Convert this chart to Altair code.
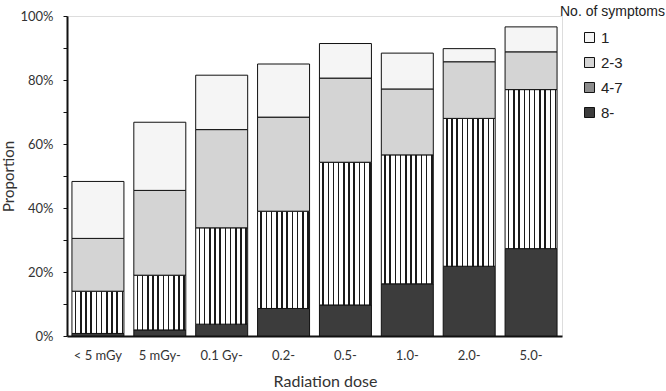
import altair as alt
import pandas as pd

doses = ["< 5 mGy", "5 mGy-", "0.1 Gy-", "0.2-", "0.5-", "1.0-", "2.0-", "5.0-"]
categories = ["1", "2-3", "4-7", "8-"]
# percentages of each symptom-count group per dose band
s_1 = [17.8, 21.3, 17.0, 16.6, 10.8, 11.2, 4.1, 7.8]
s_23 = [16.5, 26.5, 30.7, 29.4, 26.3, 20.6, 17.7, 11.8]
s_47 = [13.2, 17.1, 30.1, 30.4, 44.6, 40.3, 46.2, 49.7]
s_8 = [0.8, 1.9, 3.7, 8.6, 9.7, 16.3, 21.8, 27.3]
fills = ["#f5f5f5", "#d4d4d4", "#8c8c8c", "#3c3c3c"]

rows = []
for i, d in enumerate(doses):
    base = 0.0
    for cat, vals in [("8-", s_8), ("4-7", s_47), ("2-3", s_23), ("1", s_1)]:
        v = vals[i]
        rows.append(dict(dose=d, cat=cat, value=v, y0=base, y1=base + v))
        base += v
df = pd.DataFrame(rows)

# striped fill for the 4-7 group
stops = []
n = 10
for k in range(n):
    a = k / n
    b = a + 0.55 / n
    c = a + 0.85 / n
    stops += [
        {"offset": a, "color": "#ffffff"},
        {"offset": b, "color": "#ffffff"},
        {"offset": b, "color": "#1a1a1a"},
        {"offset": c, "color": "#1a1a1a"},
        {"offset": c, "color": "#ffffff"},
        {"offset": (k + 1) / n, "color": "#ffffff"},
    ]
stripe = {"gradient": "linear", "x1": 0, "y1": 0, "x2": 1, "y2": 0, "stops": stops}

font_tick = "Lato"
font_leg = "Liberation Sans"

chart = alt.Chart(df).mark_bar(stroke="#111111", strokeWidth=1).encode(
    x=alt.X(
        "dose:N",
        sort=doses,
        scale=alt.Scale(paddingInner=0.16, paddingOuter=0.08),
        axis=alt.Axis(
            title="Radiation dose",
            labelAngle=0,
            ticks=False,
            labelPadding=13,
            domainColor="#111111",
            domainWidth=2,
            labelFont=font_tick,
            labelFontSize=13,
            labelColor="#333333",
            titleFont=font_tick,
            titleFontSize=16,
            titleFontWeight="normal",
            titleColor="#333333",
            titleX=258,
            titleY=50,
            titleBaseline="alphabetic",
        ),
    ),
    y=alt.Y(
        "y1:Q",
        scale=alt.Scale(domain=[0, 100], nice=False),
        axis=alt.Axis(
            title="Proportion",
            values=list(range(0, 101, 10)),
            labelExpr="datum.value % 20 == 0 ? datum.value + '%' : ''",
            labelOverlap=False,
            grid=False,
            domainColor="#111111",
            domainWidth=2,
            tickColor="#111111",
            tickSize=4,
            labelPadding=10,
            labelFont=font_tick,
            labelFontSize=13,
            labelColor="#333333",
            titleFont=font_tick,
            titleFontSize=15,
            titleFontWeight="normal",
            titleColor="#333333",
            titleX=-66,
            titleY=160,
            titleAngle=-90,
            titleAlign="center",
            titleBaseline="top",
        ),
    ),
    y2="y0:Q",
    fill=alt.condition(
        alt.datum.cat == "4-7",
        alt.value(stripe),
        alt.Fill(
            "cat:N",
            scale=alt.Scale(domain=categories, range=fills),
            legend=alt.Legend(
                title="No. of symptoms",
                orient="none",
                legendX=493,
                legendY=-11,
                symbolType="square",
                symbolSize=100,
                symbolStrokeColor="#111111",
                symbolStrokeWidth=1,
                symbolOffset=22,
                titleFont=font_leg,
                titleFontSize=14,
                titleFontWeight="normal",
                titleColor="#222222",
                titlePadding=11,
                labelFont=font_leg,
                labelFontSize=15,
                labelColor="#222222",
                rowPadding=9,
                labelOffset=4,
            ),
        ),
    ),
).properties(
    width=495,
    height=320,
    autosize=alt.AutoSizeParams(type="none"),
    padding={"left": 67, "top": 16, "right": 104, "bottom": 55},
).configure_view(stroke=None).configure(background="white")

chart.save("out.html", embed_options={"renderer": "svg", "actions": False})
